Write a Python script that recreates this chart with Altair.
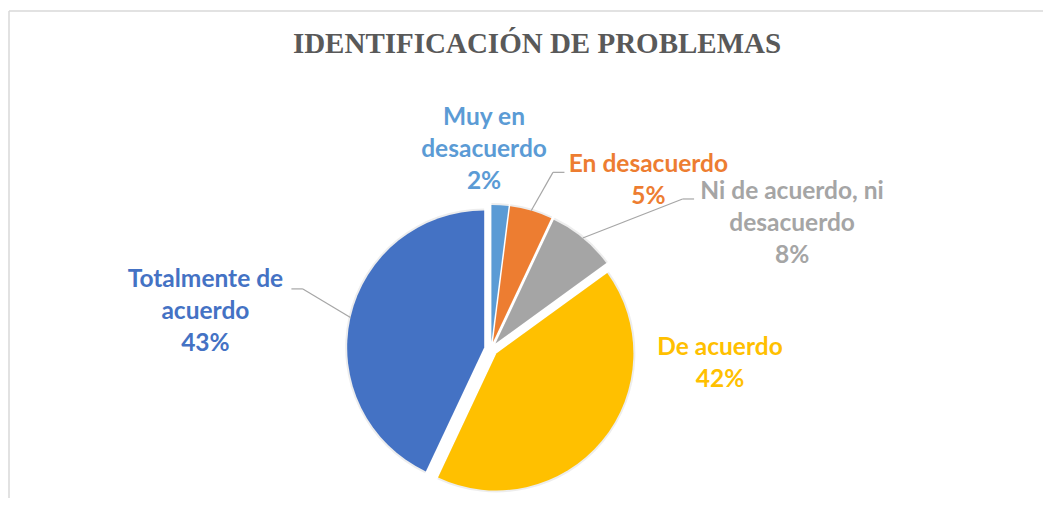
import altair as alt
import pandas as pd

# ---------------- data ----------------
categories = [
    "Muy en desacuerdo",
    "En desacuerdo",
    "Ni de acuerdo, ni desacuerdo",
    "De acuerdo",
    "Totalmente de acuerdo",
]
label_names = [
    "Muy en\ndesacuerdo",
    "En desacuerdo",
    "Ni de acuerdo, ni\ndesacuerdo",
    "De acuerdo",
    "Totalmente de\nacuerdo",
]
percent = [2, 5, 8, 42, 43]
colors = ["#5B9BD5", "#ED7D31", "#A5A5A5", "#FFC000", "#4472C4"]
TITLE = "IDENTIFICACIÓN DE PROBLEMAS"

# ---------------- layout (pixels / degrees, not data) ----------------
W, H = 1035, 490
CX, CY, R, EXPLODE = 483, 341, 137, 7
LINE_H = 32
label_shift_deg = [-5.6, 27.0, 27.85, -35.85, -5.2]
label_radius = [199, 230, 326, 229.5, 288]
has_leader = [0, 1, 1, 0, 1]
leader_dx = [0, -84, -98, 0, 86]
leader_dy = [0, -9, -25, 0, -23]

label_text = [f"{n}\n{p}%" for n, p in zip(label_names, percent)]
df = pd.DataFrame({
    "idx": list(range(len(categories))),
    "category": categories,
    "value": percent,
    "label": label_text,
    "nlines": [t.count("\n") + 1 for t in label_text],
    "shift": label_shift_deg,
    "lr": label_radius,
    "has_leader": has_leader,
    "ldx": leader_dx,
    "ldy": leader_dy,
})

color_scale = alt.Scale(domain=categories, range=colors)

base = (
    alt.Chart(df)
    .transform_joinaggregate(total="sum(value)")
    .transform_window(cum="sum(value)", sort=[alt.SortField("idx", order="ascending")])
    .transform_calculate(mid="2*PI*(datum.cum - datum.value/2)/datum.total")
    .transform_calculate(
        px=f"{CX} + {EXPLODE}*sin(datum.mid)",
        py=f"{CY} - {EXPLODE}*cos(datum.mid)",
        la="datum.mid + datum.shift*PI/180",
    )
    .transform_calculate(
        lx=f"{CX} + datum.lr*sin(datum.la)",
        ly=f"{CY} - datum.lr*cos(datum.la)",
        sx=f"{CX} + {R + EXPLODE}*sin(datum.mid)",
        sy=f"{CY} - {R + EXPLODE}*cos(datum.mid)",
    )
    .transform_calculate(
        ly1=f"datum.ly - (datum.nlines - 1)*{LINE_H}/2",
        ex="datum.lx + datum.ldx",
        ey="datum.ly + datum.ldy",
    )
    .transform_calculate(
        bx="datum.ex + (datum.ldx < 0 ? -11.5 : 11.5)",
        by="datum.ey",
    )
)

shadow = base.mark_arc(radius=R + 2, color="#000000", opacity=0.07).encode(
    theta=alt.Theta("value:Q", stack=True),
    order=alt.Order("idx:Q"),
    x=alt.X("px:Q", scale=None, axis=None),
    y=alt.Y("py:Q", scale=None, axis=None),
)

arcs = base.mark_arc(radius=R).encode(
    theta=alt.Theta("value:Q", stack=True),
    order=alt.Order("idx:Q"),
    color=alt.Color("category:N", scale=color_scale, legend=None),
    x=alt.X("px:Q", scale=None, axis=None),
    y=alt.Y("py:Q", scale=None, axis=None),
)

labels = base.mark_text(
    font="Lato", fontWeight="bold", fontSize=24.5, lineHeight=LINE_H,
    lineBreak="\n", align="center", baseline="middle",
).encode(
    text="label:N",
    x=alt.X("lx:Q", scale=None, axis=None),
    y=alt.Y("ly1:Q", scale=None, axis=None),
    color=alt.Color("category:N", scale=color_scale, legend=None),
)

leaders = base.transform_filter("datum.has_leader == 1")
lead1 = leaders.mark_rule(color="#A6A6A6", strokeWidth=1.2).encode(
    x=alt.X("sx:Q", scale=None, axis=None),
    y=alt.Y("sy:Q", scale=None, axis=None),
    x2="bx:Q",
    y2="by:Q",
)
lead2 = leaders.mark_rule(color="#A6A6A6", strokeWidth=1.2).encode(
    x=alt.X("bx:Q", scale=None, axis=None),
    y=alt.Y("by:Q", scale=None, axis=None),
    x2="ex:Q",
    y2="ey:Q",
)

title = alt.Chart(pd.DataFrame({"t": [TITLE]})).mark_text(
    font="Liberation Serif", fontWeight="bold", fontSize=29, color="#595959",
    align="center", baseline="alphabetic",
).encode(text="t:N", x=alt.value(529), y=alt.value(45))

frame_df = pd.DataFrame({"k": [0]})
frame_top = alt.Chart(frame_df).mark_rule(color="#D9D9D9", strokeWidth=1.5).encode(
    x=alt.value(1), x2=alt.value(W), y=alt.value(3)
)
frame_left = alt.Chart(frame_df).mark_rule(color="#D9D9D9", strokeWidth=1.5).encode(
    x=alt.value(1), y=alt.value(3), y2=alt.value(H)
)

chart = (
    alt.layer(frame_top, frame_left, shadow, arcs, lead1, lead2, labels, title)
    .properties(width=W, height=H, padding=0, autosize=alt.AutoSizeParams(type="none"))
    .configure_view(stroke=None)
)

chart.save("out.html", embed_options={"renderer": "svg", "actions": False})
